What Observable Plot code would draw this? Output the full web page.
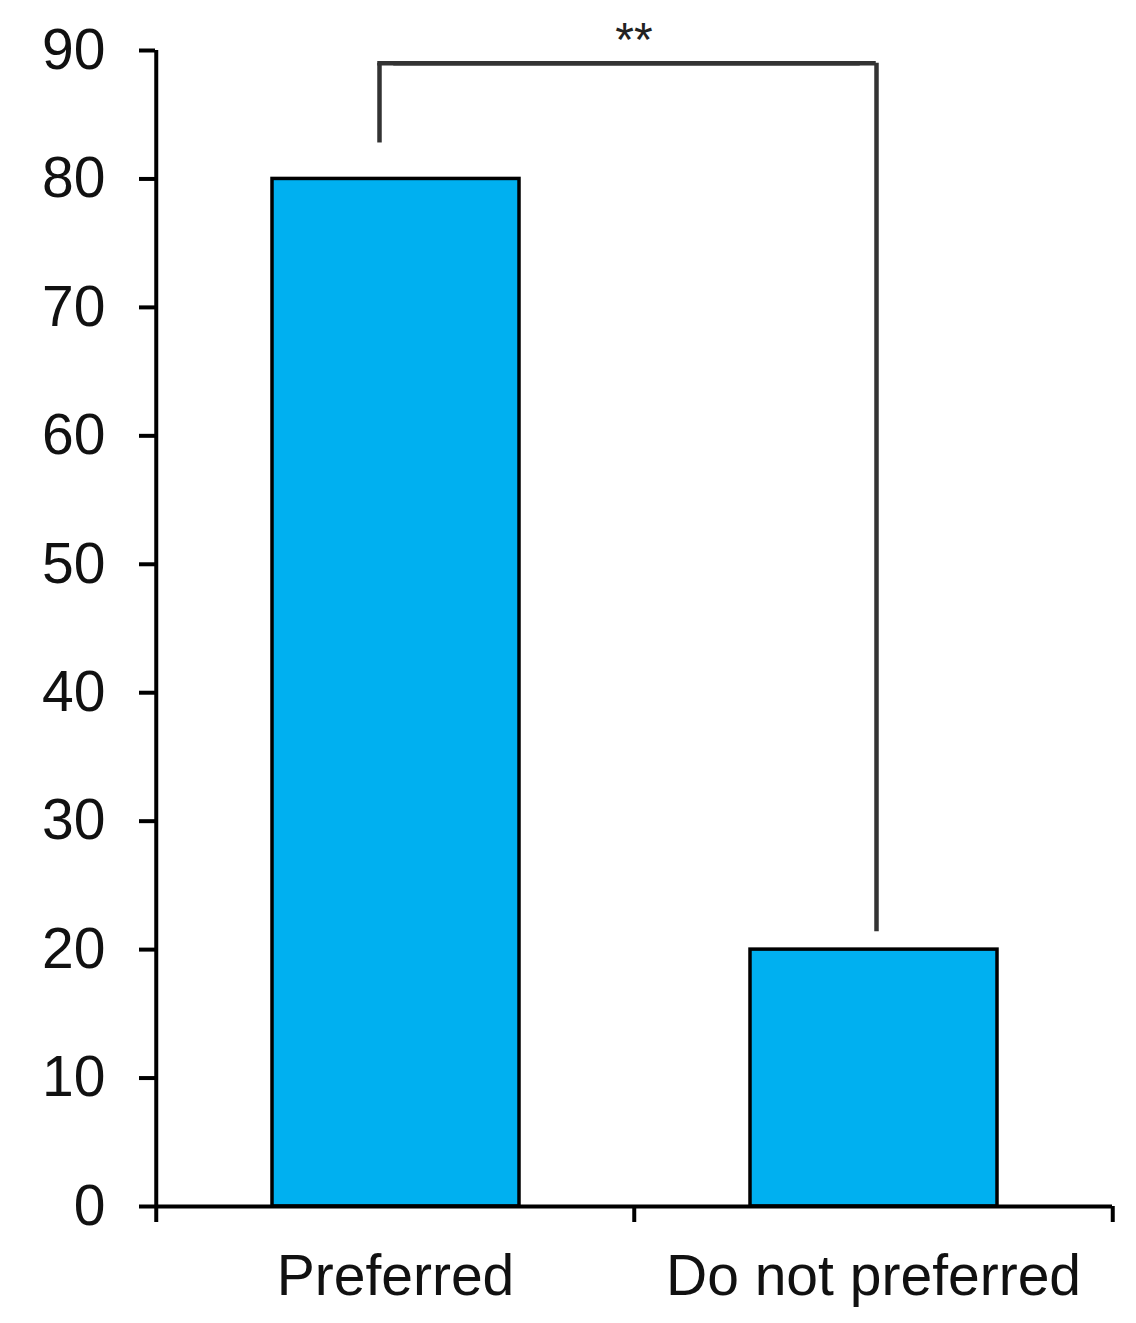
<!DOCTYPE html>
<html>
<head>
<meta charset="utf-8">
<script src="https://cdn.jsdelivr.net/npm/d3@7"></script>
<script src="https://cdn.jsdelivr.net/npm/@observablehq/plot@0.6"></script>
<style>
  html, body { margin: 0; padding: 0; background: #fff; }
  #chart svg { display: block; }
</style>
</head>
<body>
<div id="chart"></div>
<script>
// Data
const categories = ["Preferred", "Do not preferred"];
const values = [80, 20];
const yTicks = [0, 10, 20, 30, 40, 50, 60, 70, 80, 90];
const significance = "**";
const bracketTop = 89;
const bracketEnds = [82.8, 21.4];

const data = categories.map((c, i) => ({category: c, value: values[i]}));
const bracketLine = [{x: categories[0], y: bracketTop}, {x: categories[1], y: bracketTop}];

const W = 1136, H = 1323;
const mL = 155, mR = 24, mT = 50, mB = 117;
const halfBand = (W - mL - mR) / categories.length / 2;
const font = "Liberation Sans, Arial, sans-serif";

const chart = Plot.plot({
  width: W,
  height: H,
  marginLeft: mL,
  marginRight: mR,
  marginTop: mT,
  marginBottom: mB,
  style: {fontFamily: font, fontSize: "57px", color: "#000", background: "#fff"},
  x: {type: "band", domain: categories, padding: 0, axis: null},
  y: {domain: [0, 90], axis: null},
  marks: [
    // bars
    Plot.barY(data, {x: "category", y: "value", fill: "#00B0F0", stroke: "#000", strokeWidth: 3.5, insetLeft: 116, insetRight: 115}),
    // y axis
    Plot.axisY(yTicks, {tickSize: 16, tickPadding: 34, strokeWidth: 4, fontSize: 57, fill: "#111"}),
    Plot.ruleX([0], {x: () => categories[0], dx: -halfBand, y1: 0, y2: 90, stroke: "#000", strokeWidth: 4}),
    // x axis line
    Plot.ruleY([0], {stroke: "#000", strokeWidth: 4}),
    // x axis labels
    Plot.axisX(categories, {tickSize: 0, tickPadding: 48, fontSize: 57, fill: "#111"}),
    // x axis ticks at category boundaries
    Plot.axisX(categories, {tickSize: 16, tickFormat: () => "", dx: -halfBand, strokeWidth: 4}),
    Plot.axisX(categories.slice(-1), {tickSize: 16, tickFormat: () => "", dx: halfBand, strokeWidth: 4}),
    // significance bracket
    Plot.ruleX([categories[0]], {y1: bracketEnds[0], y2: bracketTop, dx: -16, stroke: "#333", strokeWidth: 4.5}),
    Plot.ruleX([categories[1]], {y1: bracketEnds[1], y2: bracketTop, dx: 3, stroke: "#333", strokeWidth: 4.5}),
    Plot.line(bracketLine, {x: "x", y: "y", stroke: "#333", strokeWidth: 4.5, strokeLinecap: "square"}),
    Plot.line(bracketLine, {x: "x", y: "y", dx: -16, stroke: "#333", strokeWidth: 4.5, strokeLinecap: "square"}),
    Plot.text([significance], {frameAnchor: "top", lineAnchor: "middle", dy: -10, fontSize: 48, fill: "#222"})
  ]
});
document.getElementById("chart").appendChild(chart);
</script>
</body>
</html>
